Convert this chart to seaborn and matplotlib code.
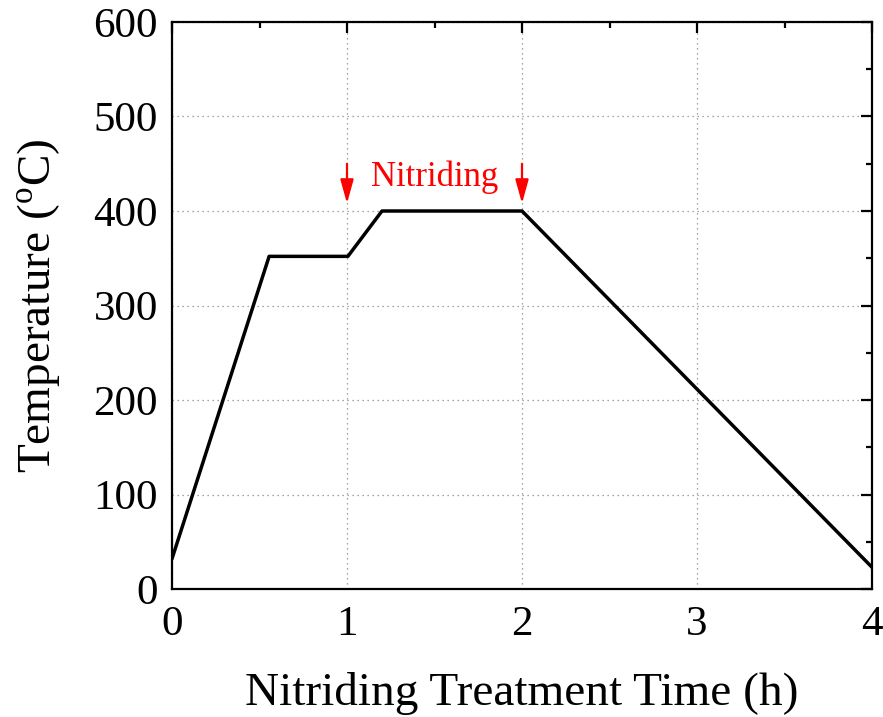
import matplotlib
matplotlib.use("Agg")
import matplotlib.pyplot as plt
import seaborn as sns
import pandas as pd
from matplotlib.ticker import MultipleLocator

time_h = [0.0, 0.555, 1.005, 1.2, 2.0, 4.0]
temp_c = [32, 352, 352, 400, 400, 23]
arrow_x = [1.0, 2.0]
arrow_y_top = 450
arrow_y_bottom = 408
label_text = "Nitriding"

sns.set_style("white")
plt.rcParams['font.family'] = ['Liberation Serif', 'DejaVu Serif']
plt.rcParams['mathtext.fontset'] = 'custom'
plt.rcParams['mathtext.rm'] = 'Liberation Serif'
plt.rcParams['text.color'] = 'black'
plt.rcParams['axes.labelcolor'] = 'black'

fig = plt.figure(figsize=(8.83, 7.17), dpi=100)
ax = fig.add_axes([172/883, 1-589/717, 700/883, 567/717])

df = pd.DataFrame({"t": time_h, "T": temp_c})
sns.lineplot(data=df, x="t", y="T", sort=False, color="black", linewidth=2.5, ax=ax)

ax.set_xlim(0, 4)
ax.set_ylim(0, 600)
ax.xaxis.set_major_locator(MultipleLocator(1))
ax.xaxis.set_minor_locator(MultipleLocator(0.5))
ax.yaxis.set_major_locator(MultipleLocator(100))
ax.yaxis.set_minor_locator(MultipleLocator(50))
ax.grid(True, which="major", linestyle=(0, (1, 3)), color="#888888", linewidth=0.9)
ax.tick_params(which="both", direction="in", top=True, right=True, labelsize=31, width=1.6,
               colors="black", labelcolor="black")
ax.tick_params(which="major", length=8)
ax.tick_params(axis="x", which="major", pad=12)
ax.tick_params(axis="y", which="major", pad=10)
ax.tick_params(which="minor", length=4.5)
for s in ax.spines.values():
    s.set_linewidth(1.6)
    s.set_color("black")

ax.set_xlabel("Nitriding Treatment Time (h)", fontsize=34, labelpad=20, color="black")
ax.set_ylabel("Temperature ($^{\\rm o}$C)", fontsize=34, labelpad=22, color="black")

for xa in arrow_x:
    ax.annotate("", xy=(xa, arrow_y_bottom), xytext=(xa, arrow_y_top),
                arrowprops=dict(arrowstyle="-|>,head_length=0.9,head_width=0.25", color="red", lw=1.6,
                                mutation_scale=16, shrinkA=0, shrinkB=0))
ax.text(1.5, 436, label_text, color="red", fontsize=25, ha="center", va="center")

fig.savefig("out.png", dpi=100)
